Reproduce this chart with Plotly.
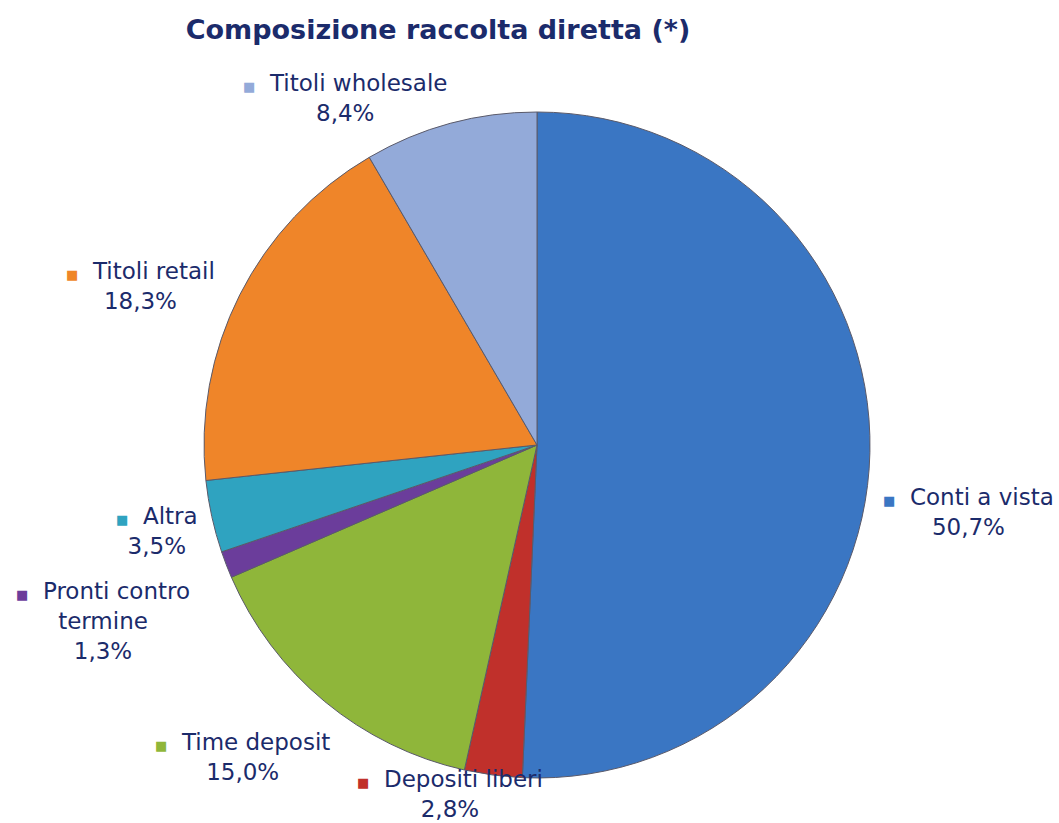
import plotly.graph_objects as go

# slices, clockwise from 12 o'clock
labels = ["Conti a vista", "Depositi liberi", "Time deposit", "Pronti contro termine",
          "Altra", "Titoli retail", "Titoli wholesale"]
values = [50.7, 2.8, 15.0, 1.3, 3.5, 18.3, 8.4]
colors = ["#3a76c3", "#c0302b", "#8fb63a", "#6b3d9b", "#2fa3c0", "#ef8529", "#93aad9"]

# label text (line breaks as in the original) and where each label sits (pixels)
label_text = ["Conti a vista", "Depositi liberi", "Time deposit", "Pronti contro<br>termine",
              "Altra", "Titoli retail", "Titoli wholesale"]
label_pos = [(968, 512), (450, 794), (242, 757), (103, 621), (157, 531), (140, 286), (345, 98)]

W, H = 1059, 823
navy = "#1b2b6b"

fig = go.Figure(go.Pie(
    labels=labels, values=values, sort=False, direction="clockwise", rotation=0,
    marker=dict(colors=colors, line=dict(color="#5a5a6a", width=1)),
    textinfo="none", hoverinfo="label+percent", showlegend=False,
    domain=dict(x=[204 / W, 870 / W], y=[1 - 778 / H, 1 - 112 / H]),
))

for txt, val, col, (px_, py_) in zip(label_text, values, colors, label_pos):
    pct = f"{val:.1f}".replace(".", ",") + "%"
    fig.add_annotation(
        x=px_ / W, y=1 - py_ / H, xref="paper", yref="paper",
        xanchor="center", yanchor="middle", align="center", showarrow=False,
        text=f"<span style='color:{col};font-size:13px'>■</span>  {txt}<br>{pct}",
        font=dict(family="DejaVu Sans", size=23, color=navy),
    )

fig.update_layout(
    width=W, height=H,
    margin=dict(l=0, r=0, t=0, b=0),
    paper_bgcolor="white", plot_bgcolor="white",
    title=dict(text="<b>Composizione raccolta diretta (*)</b>", x=438 / W, xanchor="center",
               y=1 - 30 / H, yanchor="middle",
               font=dict(family="DejaVu Sans", size=27, color=navy)),
)

# drop the page's default body margin so the figure sits at the window's corner
fig.write_html("out.html", config={"displayModeBar": False},
               post_script="document.body.style.margin='0';")
